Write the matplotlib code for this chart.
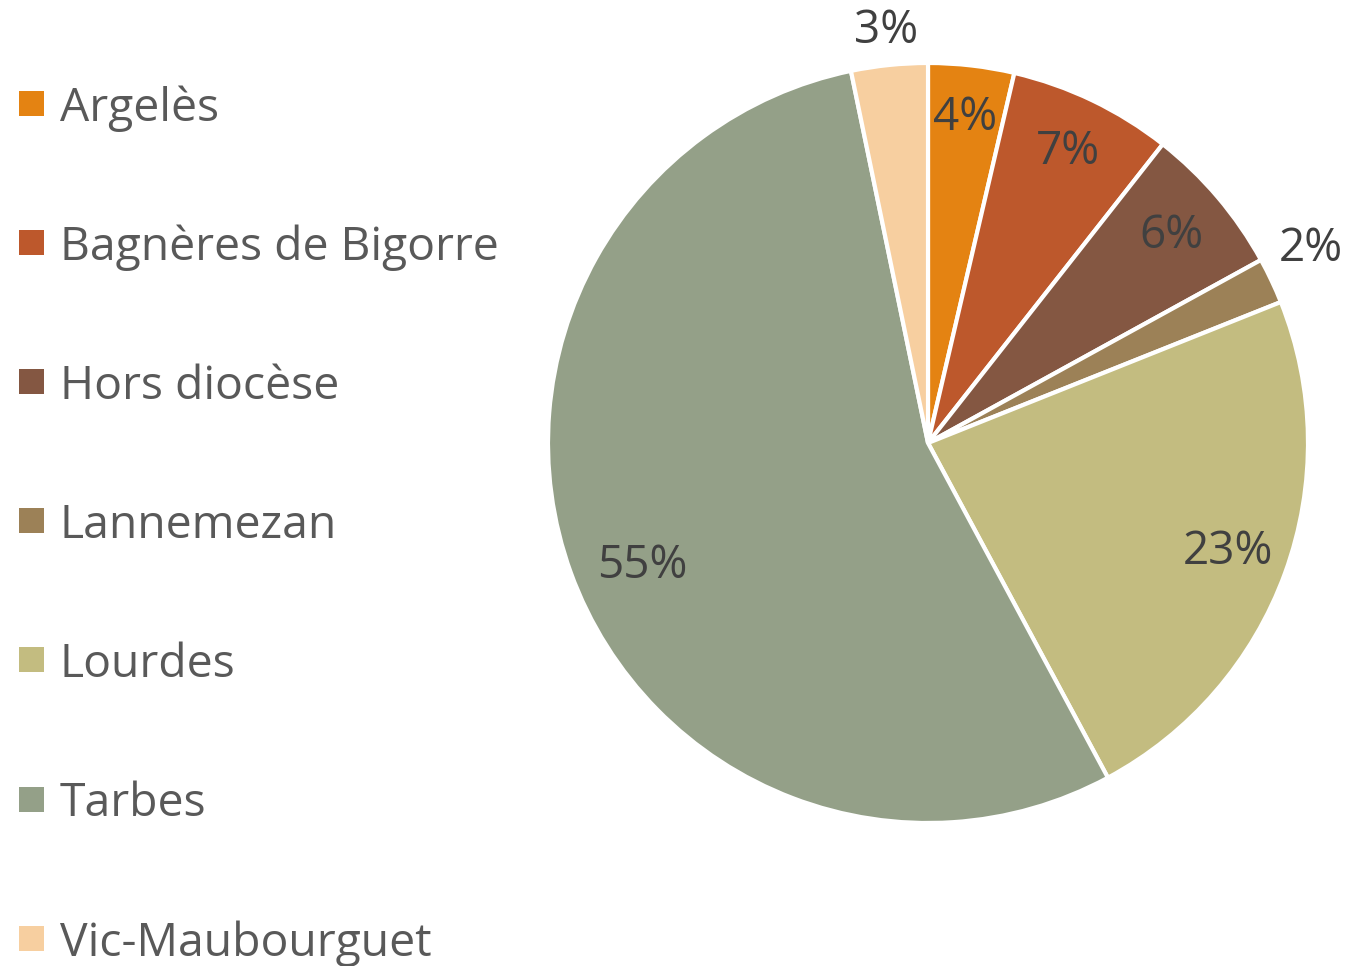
import matplotlib
matplotlib.use("Agg")
import matplotlib.pyplot as plt
from matplotlib.patches import Rectangle
import numpy as np

# repartition par secteur (en %)
labels = ["Argelès", "Bagnères de Bigorre", "Hors diocèse", "Lannemezan",
          "Lourdes", "Tarbes", "Vic-Maubourguet"]
values = [3.65, 6.95, 6.4, 1.95, 23.2, 54.6, 3.25]
colors = ["#E48312", "#BD582C", "#845742", "#9C8157",
          "#C3BC80", "#94A088", "#F7CFA0"]
# % label placement: distance from centre (fraction of radius), angle nudge (deg)
label_dist = [0.86, 0.85, 0.84, 1.13, 0.84, 0.82, 1.09]
label_nudge = [0, 0, 0, 1.5, 0, 3.3, 0]

plt.rcParams['font.family'] = ['Open Sans', 'DejaVu Sans']

W, H = 1348, 966
fig = plt.figure(figsize=(W / 100, H / 100), dpi=100)

# pie axes: centre (928, 443), radius 380 px
cx, cy, r = 928, 443, 380
ax = fig.add_axes([(cx - r) / W, (H - cy - r) / H, 2 * r / W, 2 * r / H])
wedges, _ = ax.pie(values, colors=colors, startangle=90, counterclock=False,
                   wedgeprops=dict(edgecolor="white", linewidth=3))
ax.set_xlim(-1, 1)
ax.set_ylim(-1, 1)
ax.set_aspect("equal")
ax.axis("off")

total = sum(values)
for w, v, d, n in zip(wedges, values, label_dist, label_nudge):
    mid = np.deg2rad((w.theta1 + w.theta2) / 2 + n)
    ax.text(d * np.cos(mid), d * np.sin(mid), f"{round(v / total * 100):.0f}%",
            ha="center", va="center", fontsize=33, color="#404040")

# legend drawn by hand on the left
y0, step = 103, 139.2
for i, (lab, c) in enumerate(zip(labels, colors)):
    yc = y0 + i * step
    fig.patches.append(Rectangle((19 / W, (H - yc - 12.5) / H), 25 / W, 25 / H,
                                 transform=fig.transFigure, facecolor=c,
                                 edgecolor="none"))
    fig.text(60 / W, (H - yc) / H, lab, ha="left", va="center_baseline",
             fontsize=33.3, color="#595959")

fig.savefig("out.png", dpi=100, facecolor="white")
